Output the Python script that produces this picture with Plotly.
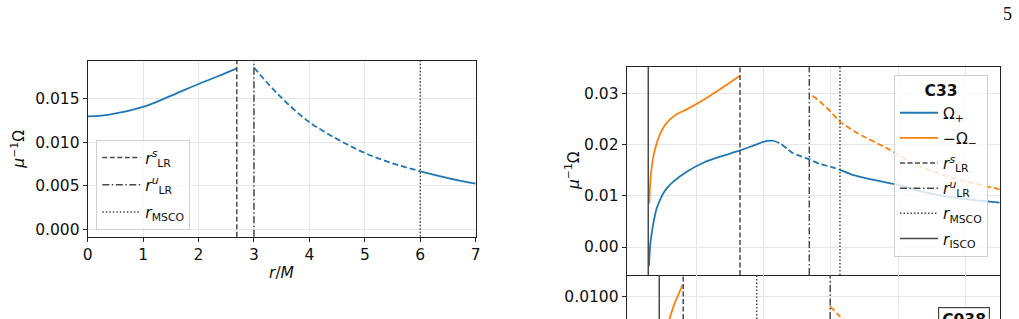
import plotly.graph_objects as go

# ---------------- data: left panel ----------------
r_left_stable_in = [0, 0.25, 0.55, 1.03, 1.52, 2.0, 2.35, 2.69]
om_left_stable_in = [0.01296, 0.01303, 0.01334, 0.01410, 0.01536, 0.01666, 0.01755, 0.01845]
r_left_unstable = [3.0, 3.44, 3.98, 4.52, 5.0, 5.48, 6.0]
om_left_unstable = [0.01855, 0.01544, 0.01238, 0.01028, 0.00875, 0.0076, 0.00665]
r_left_stable_out = [6.0, 6.5, 7.0]
om_left_stable_out = [0.00665, 0.00588, 0.00523]
left_r_LR_s, left_r_LR_u, left_r_MSCO = 2.69, 3.0, 6.0

# ---------------- data: right panel (C33) ----------------
r_c33_plus_in = [1.303, 1.318, 1.343, 1.367, 1.417, 1.466, 1.515, 1.589, 1.663, 1.862,
                 2.108, 2.355, 2.64, 2.85, 3.04, 3.15]
om_c33_plus_in = [-0.0037, 0.00006, 0.00267, 0.00462, 0.00755, 0.00918, 0.01049, 0.01178,
                  0.01276, 0.0147, 0.01646, 0.01764, 0.01881, 0.0198, 0.02070, 0.02076]
r_c33_plus_unst = [3.15, 3.25, 3.35, 3.44, 3.56, 3.68, 3.84, 4.0, 4.135]
om_c33_plus_unst = [0.02076, 0.0202, 0.0192, 0.0183, 0.0177, 0.0171, 0.01621, 0.01565, 0.01505]
r_c33_plus_out = [4.135, 4.3, 4.5, 4.83, 5.0, 5.32, 5.5, 5.82, 6.1, 6.504]
om_c33_plus_out = [0.01505, 0.0142, 0.0135, 0.01256, 0.0121, 0.0109, 0.0104, 0.0097, 0.0092, 0.00865]
r_c33_minus_in = [1.307, 1.318, 1.333, 1.367, 1.417, 1.466, 1.54, 1.614, 1.737, 1.862,
                  2.108, 2.355, 2.652]
om_c33_minus_in = [0.00853, 0.01178, 0.0144, 0.01764, 0.02025, 0.02207, 0.02383, 0.02494,
                   0.02611, 0.02689, 0.0287, 0.0308, 0.03346]
r_c33_minus_out = [3.73, 3.84, 4.0, 4.135, 4.4, 4.83, 5.32, 5.82, 6.504]
om_c33_minus_out = [0.02955, 0.02838, 0.0264, 0.02447, 0.0222, 0.01928, 0.01569, 0.01341, 0.01127]
c33_r_ISCO, c33_r_LR_s, c33_r_LR_u, c33_r_MSCO = 1.292, 2.652, 3.68, 4.135

# ---------------- data: lower panel (C038), partially visible ----------------
r_c038_minus_in = [1.55, 1.68, 1.802]
om_c038_minus_in = [0.00859, 0.0097, 0.01049]
r_c038_minus_out = [3.99, 4.1, 4.25]
om_c038_minus_out = [0.0096, 0.00927, 0.00885]
c038_r_ISCO, c038_r_LR_s, c038_r_MSCO, c038_r_LR_u = 1.455, 1.81, 2.90, 3.99

BLUE = "#1f77b4"
ORANGE = "#ff7f0e"
VCOL = "#4a4a4a"
GRID = "#e6e6e6"
FONT = "DejaVu Sans"
FS = 15.5
CURVE_DASH = "6px,3px"
DASH = {"s": "5px,2.5px", "u": "7px,2.5px,1.5px,2.5px", "m": "1.5px,2px", "i": "solid"}

W, H = 1019, 319
def px(x):
    return x / W
def py(y):
    return 1 - y / H

fig = go.Figure()

def curve(x, y, color, dash, xa, ya, name=None, legend=None, show=False, group=None, smooth=0.6):
    fig.add_trace(go.Scatter(x=x, y=y, mode="lines", xaxis=xa, yaxis=ya,
                             line=dict(color=color, width=1.8, dash=dash, shape="spline",
                                       smoothing=smooth),
                             name=name, showlegend=show, legend=legend, legendgroup=group,
                             hoverinfo="skip"))

# left panel curves
curve(r_left_stable_in, om_left_stable_in, BLUE, "solid", "x", "y", smooth=1.0)
curve(r_left_unstable, om_left_unstable, BLUE, CURVE_DASH, "x", "y", smooth=1.0)
curve(r_left_stable_out, om_left_stable_out, BLUE, "solid", "x", "y", smooth=1.0)

# right panel curves
curve(r_c33_plus_in, om_c33_plus_in, BLUE, "solid", "x2", "y2",
      name="Ω<sub>+</sub>", legend="legend2", show=True, group="g1")
curve(r_c33_plus_unst, om_c33_plus_unst, BLUE, CURVE_DASH, "x2", "y2", group="g1")
curve(r_c33_plus_out, om_c33_plus_out, BLUE, "solid", "x2", "y2", group="g1")
curve(r_c33_minus_in, om_c33_minus_in, ORANGE, "solid", "x2", "y2",
      name="−Ω<sub>−</sub>", legend="legend2", show=True, group="g2")
curve(r_c33_minus_out, om_c33_minus_out, ORANGE, CURVE_DASH, "x2", "y2", group="g2")

# lower panel curves
curve(r_c038_minus_in, om_c038_minus_in, ORANGE, "solid", "x3", "y3")
curve(r_c038_minus_out, om_c038_minus_out, ORANGE, CURVE_DASH, "x3", "y3")

LBL = {
    "s": "<i>r</i><sup><i>s</i></sup><sub>LR</sub>",
    "u": "<i>r</i><sup><i>u</i></sup><sub>LR</sub>",
    "m": "<i>r</i><sub>MSCO</sub>",
    "i": "<i>r</i><sub>ISCO</sub>",
}

# legend-only entries for reference lines
for key in ["s", "u", "m"]:
    fig.add_trace(go.Scatter(x=[None], y=[None], mode="lines", xaxis="x", yaxis="y",
                             line=dict(color=VCOL, width=1.5, dash=DASH[key]),
                             name=LBL[key], legend="legend", legendgroup="L" + key,
                             showlegend=True))
for key in ["s", "u", "m", "i"]:
    fig.add_trace(go.Scatter(x=[None], y=[None], mode="lines", xaxis="x2", yaxis="y2",
                             line=dict(color=VCOL, width=1.5, dash=DASH[key]),
                             name=LBL[key], legend="legend2", legendgroup="R" + key,
                             showlegend=True))

shapes = []
def vline(xv, key, xa, ya):
    shapes.append(dict(type="line", xref=xa, yref=ya + " domain", x0=xv, x1=xv, y0=0, y1=1,
                       line=dict(color=VCOL, width=1.5, dash=DASH[key])))

vline(left_r_LR_s, "s", "x", "y")
vline(left_r_LR_u, "u", "x", "y")
vline(left_r_MSCO, "m", "x", "y")
vline(c33_r_ISCO, "i", "x2", "y2")
vline(c33_r_LR_s, "s", "x2", "y2")
vline(c33_r_LR_u, "u", "x2", "y2")
vline(c33_r_MSCO, "m", "x2", "y2")
vline(c038_r_ISCO, "i", "x3", "y3")
vline(c038_r_LR_s, "s", "x3", "y3")
vline(c038_r_MSCO, "m", "x3", "y3")
vline(c038_r_LR_u, "u", "x3", "y3")

axis_common = dict(showgrid=True, gridcolor=GRID, gridwidth=1, zeroline=False, automargin=False,
                   linecolor="#222", linewidth=1, ticks="outside", ticklen=4,
                   tickcolor="#222", tickfont=dict(family=FONT, size=FS, color="#111"))

legend_common = dict(xanchor="left", yanchor="top", bgcolor="rgba(255,255,255,0.8)",
                     bordercolor="#d0d0d0", borderwidth=1, itemwidth=38,
                     font=dict(family=FONT, size=FS, color="#111"))

fig.update_layout(
    template="none",
    width=W, height=H, margin=dict(l=0, r=0, t=0, b=0, pad=0),
    paper_bgcolor="white", plot_bgcolor="white",
    font=dict(family=FONT, size=FS, color="#111"),
    shapes=shapes,
    xaxis=dict(domain=[px(87.7), px(475.7)], range=[0, 7], dtick=1, anchor="y",
               showline=True, mirror=True, **axis_common),
    yaxis=dict(domain=[py(236.7), py(61)], range=[-0.00085, 0.0193], dtick=0.005,
               tickformat=".3f", anchor="x", showline=True, mirror=True, **axis_common),
    xaxis2=dict(domain=[px(626.7), px(999.7)], range=[0.972, 6.504], tickvals=[2, 3, 4, 5, 6],
                showticklabels=False, anchor="y2", showline=True, mirror=True, **axis_common),
    yaxis2=dict(domain=[py(275), py(67)], range=[-0.00547, 0.03516], dtick=0.01,
                tickformat=".2f", anchor="x2", showline=True, mirror=True, **axis_common),
    xaxis3=dict(domain=[px(626.7), px(999.7)], range=[0.972, 6.504], tickvals=[2, 3, 4, 5, 6],
                showticklabels=False, anchor="y3", matches="x2", showline=False,
                showgrid=True, gridcolor=GRID, zeroline=False, ticks="", automargin=False),
    yaxis3=dict(domain=[0, py(275)], range=[0.009071, 0.010904], tickvals=[0.0100],
                tickformat=".4f", anchor="x3", showline=True, mirror=True, **axis_common),
    legend=dict(x=px(96.3), y=py(140), tracegroupgap=4, **legend_common),
    legend2=dict(x=px(894), y=py(75), tracegroupgap=2,
                 title=dict(text="<b>C33</b>", side="top center",
                            font=dict(family=FONT, size=FS, color="#111")),
                 **legend_common),
    annotations=[
        dict(text="<i>μ</i><sup>−1</sup>Ω", x=px(17.7), y=py(149), xref="paper", yref="paper",
             textangle=-90, showarrow=False, xanchor="center", yanchor="middle",
             font=dict(family=FONT, size=FS, color="#111")),
        dict(text="<i>μ</i><sup>−1</sup>Ω", x=px(572), y=py(171), xref="paper", yref="paper",
             textangle=-90, showarrow=False, xanchor="center", yanchor="middle",
             font=dict(family=FONT, size=FS, color="#111")),
        dict(text="<i>r</i>/<i>M</i>", x=px(281.7), y=py(273.3), xref="paper", yref="paper",
             showarrow=False, xanchor="center", yanchor="middle",
             font=dict(family=FONT, size=FS, color="#111")),
        dict(text="5", x=px(1007.5), y=py(13.7), xref="paper", yref="paper",
             showarrow=False, xanchor="center", yanchor="middle",
             font=dict(family="Liberation Serif", size=18, color="#111")),
        dict(text="<b>C038</b>", x=px(938), y=py(306.7), xref="paper", yref="paper",
             showarrow=False, xanchor="left", yanchor="top", bgcolor="white",
             bordercolor="#444", borderwidth=1.2, borderpad=3,
             font=dict(family=FONT, size=FS, color="#111")),
    ],
)

fig.write_html("out.html")
